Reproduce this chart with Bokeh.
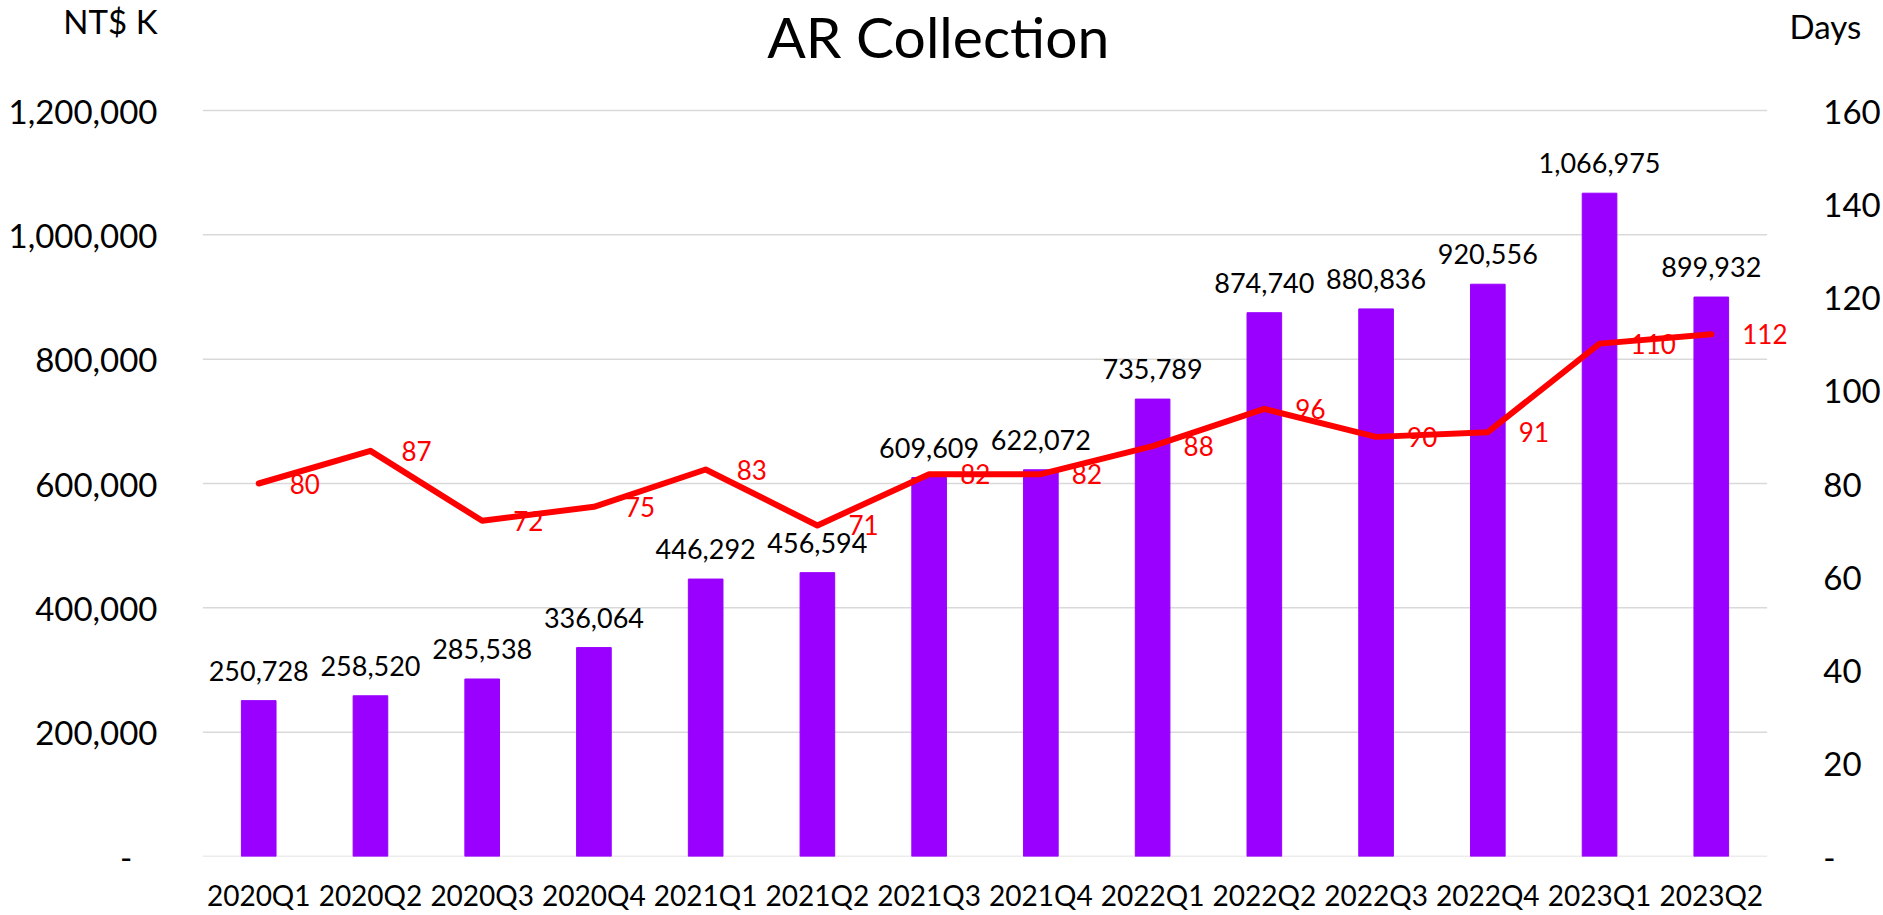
from bokeh.plotting import figure
from bokeh.models import (FactorRange, Range1d, LinearAxis, FixedTicker,
                          NumeralTickFormatter, ColumnDataSource, LabelSet, Label)
from bokeh.core.properties import value
from bokeh.embed import file_html
from bokeh.resources import INLINE

# ---------------- data ----------------
quarters = ["2020Q1", "2020Q2", "2020Q3", "2020Q4", "2021Q1", "2021Q2", "2021Q3",
            "2021Q4", "2022Q1", "2022Q2", "2022Q3", "2022Q4", "2023Q1", "2023Q2"]
ar_values = [250728, 258520, 285538, 336064, 446292, 456594, 609609,
             622072, 735789, 874740, 880836, 920556, 1066975, 899932]
days_values = [80, 87, 72, 75, 83, 71, 82, 82, 88, 96, 90, 91, 110, 112]
left_ticks = [0, 200000, 400000, 600000, 800000, 1000000, 1200000]
right_ticks = [0, 20, 40, 60, 80, 100, 120, 140, 160]
title_text = "AR Collection"
left_unit = "NT$ K"
right_unit = "Days"

# ---------------- layout (page px) ----------------
W, H = 1883, 915
PAD = 0.2                      # category padding (synthetic units) each side
FL, FR = 180, 1798             # frame left / right
FB = 856                       # frame bottom (value 0)
Y_TOP_PX = 110                 # where the top tick sits
FONT = "Lato"
BAR_COLOR = "#9900FF"
LINE_COLOR = "#FF0000"
GRID_COLOR = "#D9D9D9"
NB = "\u00a0"

n = len(quarters)
y_max = left_ticks[-1]
d_max = right_ticks[-1]
left_top = y_max * FB / (FB - Y_TOP_PX)
right_top = d_max * FB / (FB - Y_TOP_PX)


def ydata(py):
    return left_top * (FB - py) / FB


def ddata(py):
    return right_top * (FB - py) / FB


def xdata(px):
    return (px - FL) / (FR - FL) * (n + 2 * PAD) - PAD


src = ColumnDataSource(dict(
    q=quarters,
    ar=ar_values,
    days=days_values,
    ar_label=[f"{v:,}" for v in ar_values],
    days_label=[str(v) for v in days_values],
))

p = figure(width=W, height=H,
           x_range=FactorRange(*quarters, range_padding=PAD,
                               range_padding_units="absolute"),
           y_range=Range1d(0, left_top),
           output_backend="svg", toolbar_location=None,
           min_border_left=FL, min_border_right=W - FR,
           min_border_top=0, min_border_bottom=H - FB)
p.extra_y_ranges = {"days": Range1d(0, right_top)}
p.outline_line_color = None
p.background_fill_color = "white"
p.border_fill_color = "white"
p.xgrid.visible = False
p.ygrid.visible = False

# gridlines spanning the category area only
p.segment(x0=[0] * len(left_ticks), x1=[n] * len(left_ticks),
          y0=left_ticks, y1=left_ticks,
          line_color=GRID_COLOR, line_width=1.5)

# bars
p.vbar(x="q", top="ar", width=0.31, fill_color=BAR_COLOR, line_color=BAR_COLOR,
       source=src)
# line
p.line(x="q", y="days", y_range_name="days", line_color=LINE_COLOR,
       line_width=6, line_join="round", line_cap="round", source=src)

# left axis (unit label shown as an extra tick at the top)
nt_tick = round(ydata(21))
ya = p.yaxis[0]
ya.ticker = FixedTicker(ticks=left_ticks + [nt_tick])
ya.formatter = NumeralTickFormatter(format="0,0")
ya.major_label_overrides = {0: "-" + NB * 3, nt_tick: left_unit}
ya.major_label_text_font = FONT
ya.major_label_text_font_size = "33px"
ya.major_label_text_color = "#000000"
ya.major_label_standoff = 23
ya.major_tick_out = 0
ya.major_tick_in = 0
ya.axis_line_color = None
ya.major_tick_line_color = None
ya.minor_tick_line_color = None

# right axis
days_tick = round(ddata(25), 1)
r_over = {t: NB * 4 + (str(t) if t else "-") for t in right_ticks}
r_over[days_tick] = right_unit
ra = LinearAxis(y_range_name="days",
                ticker=FixedTicker(ticks=right_ticks + [days_tick]),
                major_label_overrides=r_over)
ra.major_label_text_font = FONT
ra.major_label_text_font_size = "33px"
ra.major_label_text_color = "#000000"
ra.major_label_standoff = 0
ra.major_tick_out = 0
ra.major_tick_in = 0
ra.axis_line_color = None
ra.major_tick_line_color = None
ra.minor_tick_line_color = None
p.add_layout(ra, "right")

# x axis
xa = p.xaxis[0]
xa.major_label_text_font = FONT
xa.major_label_text_font_size = "28px"
xa.major_label_text_color = "#000000"
xa.major_label_standoff = 21
xa.major_tick_out = 0
xa.major_tick_in = 0
xa.axis_line_color = None
xa.major_tick_line_color = None
xa.minor_tick_line_color = None

# data labels
p.add_layout(LabelSet(x="q", y="ar", text="ar_label", source=src,
                      text_align="center", text_baseline="alphabetic", y_offset=20,
                      text_font=value(FONT), text_font_size="27px",
                      text_color="#000000"))
p.add_layout(LabelSet(x="q", y="days", text="days_label", source=src,
                      y_range_name="days",
                      text_align="left", text_baseline="middle", x_offset=31,
                      text_font=value(FONT), text_font_size="26px",
                      text_color=LINE_COLOR))

# chart title
p.add_layout(Label(x=xdata(942), y=ydata(35), text=title_text,
                   text_align="center", text_baseline="alphabetic",
                   text_font=FONT, text_font_size="57px",
                   text_color="#000000"))

open("out.html", "w").write(file_html(p, INLINE))
